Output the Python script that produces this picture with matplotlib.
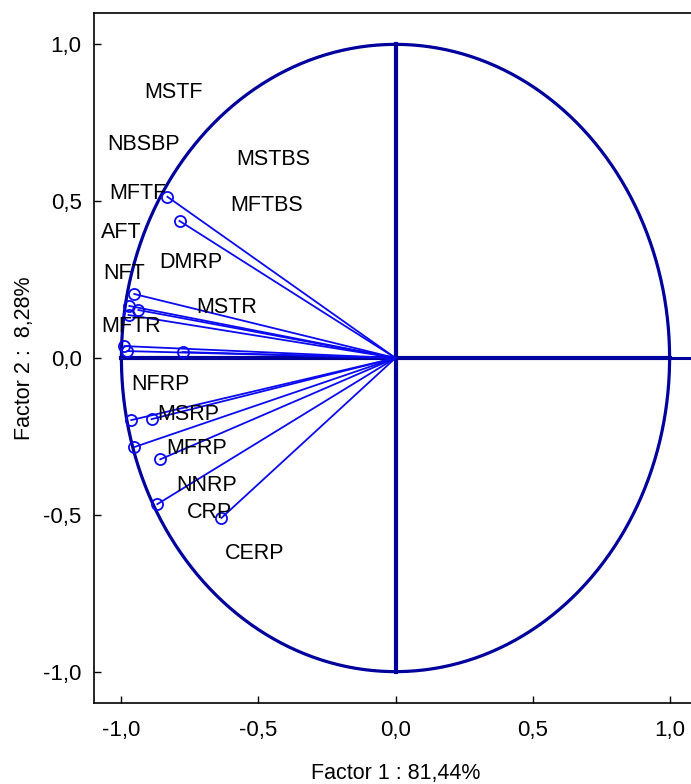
import matplotlib.pyplot as plt
import numpy as np

# Koordinaten der Variablen auf Faktor 1 / Faktor 2
fx = [-0.832, -0.788, -0.953, -0.971, -0.938, -0.974, -0.989, -0.978, -0.777,
      -0.964, -0.890, -0.953, -0.858, -0.869, -0.635]
fy = [0.514, 0.437, 0.204, 0.166, 0.153, 0.137, 0.038, 0.022, 0.019,
      -0.198, -0.195, -0.284, -0.323, -0.466, -0.510]

# Beschriftungen der Variablen
names = ["MSTF", "NBSBP", "MSTBS", "MFTF", "MFTBS", "AFT", "DMRP", "NFT",
         "MSTR", "MFTR", "NFRP", "MSRP", "MFRP", "NNRP", "CRP", "CERP"]
name_x = [-0.81, -0.92, -0.445, -0.94, -0.47, -1.0, -0.745, -0.99,
          -0.617, -0.964, -0.858, -0.755, -0.726, -0.69, -0.679, -0.515]
name_y = [0.845, 0.68, 0.632, 0.523, 0.485, 0.40, 0.306, 0.268,
          0.16, 0.102, -0.086, -0.179, -0.287, -0.405, -0.494, -0.622]

ticks = [-1.0, -0.5, 0.0, 0.5, 1.0]
tick_labels = ["-1,0", "-0,5", "0,0", "0,5", "1,0"]

plt.rcParams['font.family'] = ['Liberation Sans', 'DejaVu Sans']

navy = '#00009c'
blue = '#0a0af0'

fig = plt.figure(figsize=(6.91, 7.84), dpi=100)
ax = fig.add_axes([94 / 691, 81 / 784, 603 / 691, 690 / 784])
ax.set_xlim(-1.1, 1.1)
ax.set_ylim(-1.1, 1.1)

# Einheitskreis und Achsenkreuz
t = np.linspace(0, 2 * np.pi, 400)
ax.plot(np.cos(t), np.sin(t), color=navy, lw=2.3, zorder=3)
ax.plot([0, 0], [-1, 1], color=navy, lw=3, zorder=3)
ax.plot([-1, 1], [0, 0], color=navy, lw=3, zorder=3)
ax.plot([1, 1.1], [0, 0], color=navy, lw=2.2, zorder=3)

# Vektoren vom Ursprung zu den Variablen
for x, y in zip(fx, fy):
    ax.plot([0, x], [0, y], color=blue, lw=1.3, zorder=4)
ax.plot(fx, fy, 'o', mfc='none', mec=blue, mew=1.3, ms=8, zorder=5)

for n, x, y in zip(names, name_x, name_y):
    ax.text(x, y, n, fontsize=15.5, ha='center', va='center', zorder=6)

ax.set_xticks(ticks)
ax.set_xticklabels(tick_labels)
ax.set_yticks(ticks)
ax.set_yticklabels(tick_labels)
ax.tick_params(direction='in', length=5, width=1, labelsize=16)
ax.tick_params(axis='x', pad=12)
ax.tick_params(axis='y', pad=9)
for s in ax.spines.values():
    s.set_linewidth(1.2)

ax.set_xlabel("Factor 1 : 81,44%", fontsize=15.5, labelpad=16)
ax.set_ylabel("Factor 2 :  8,28%", fontsize=15.5, labelpad=6)

plt.savefig("out.png", dpi=100)
